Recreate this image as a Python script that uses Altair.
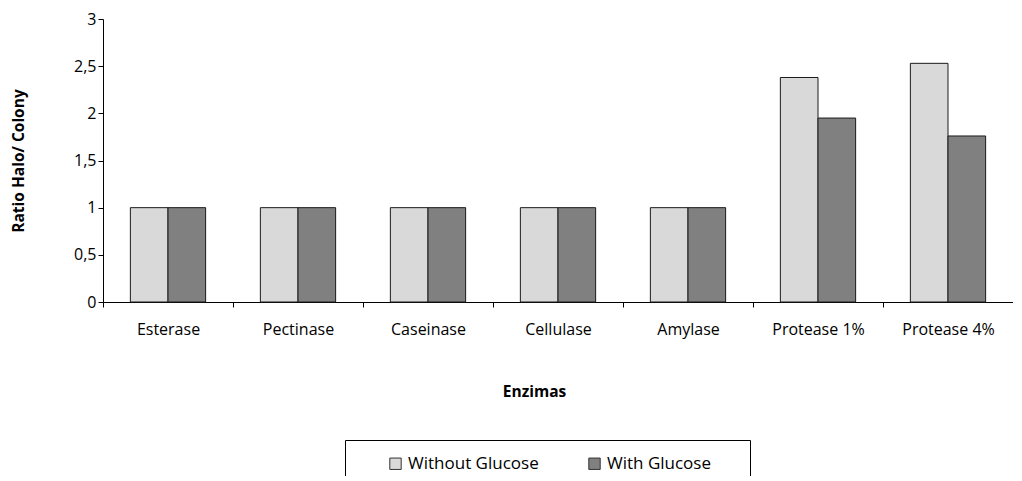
import altair as alt
import pandas as pd

enzymes = ["Esterase", "Pectinase", "Caseinase", "Cellulase", "Amylase", "Protease 1%", "Protease 4%"]
without_glucose = [1, 1, 1, 1, 1, 2.38, 2.53]
with_glucose = [1, 1, 1, 1, 1, 1.95, 1.76]
series = ["Without Glucose", "With Glucose"]
colors = ["#d9d9d9", "#808080"]

rows = []
for i, e in enumerate(enzymes):
    rows.append({"Enzima": e, "Serie": series[0], "Ratio": without_glucose[i]})
    rows.append({"Enzima": e, "Serie": series[1], "Ratio": with_glucose[i]})
df = pd.DataFrame(rows)

FONT = "Open Sans"
NB = "\u00a0"

chart = alt.Chart(df).mark_bar(stroke="#1a1a1a", strokeWidth=1).encode(
    x=alt.X("Enzima:N", sort=enzymes, title="Enzimas",
            scale=alt.Scale(paddingInner=0, paddingOuter=0),
            axis=alt.Axis(labelAngle=0, tickBand="extent", labelPadding=14,
                          titlePadding=47, titleX=431, tickSize=5, domainColor="#000",
                          tickColor="#000")),
    xOffset=alt.XOffset("Serie:N", sort=series,
                        scale=alt.Scale(paddingInner=0, paddingOuter=0.727)),
    y=alt.Y("Ratio:Q", title="Ratio Halo/ Colony",
            scale=alt.Scale(domain=[0, 3]),
            axis=alt.Axis(values=[0, 0.5, 1, 1.5, 2, 2.5, 3], grid=False,
                          labelExpr="replace(format(datum.value, '~g'), '.', ',')",
                          tickSize=5, labelPadding=2, titlePadding=47,
                          domainColor="#000", tickColor="#000")),
    color=alt.Color("Serie:N", sort=series,
                    scale=alt.Scale(domain=series, range=colors),
                    legend=alt.Legend(orient="none", legendX=242, legendY=421,
                                      title=NB, titleOrient="right", titlePadding=24,
                                      direction="horizontal", strokeColor="#000",
                                      padding=15, columnPadding=20,
                                      symbolType="square", symbolSize=130,
                                      symbolOffset=27,
                                      symbolStrokeColor="#333", symbolStrokeWidth=1,
                                      labelFontSize=17, labelOffset=4)),
).properties(
    width=910, height=283,
    autosize=alt.AutoSizeParams(type="none"),
    padding={"left": 95, "top": 11, "right": 0, "bottom": 174},
).configure_axis(
    labelFont=FONT, titleFont=FONT, labelFontSize=16, titleFontSize=15.5,
    labelColor="#000", titleColor="#000", titleFontWeight="bold",
).configure_legend(
    labelFont=FONT, labelColor="#000", titleFont=FONT, titleFontSize=16,
).configure_view(stroke=None)

chart.save("out.html", embed_options={"renderer": "svg", "actions": False})
